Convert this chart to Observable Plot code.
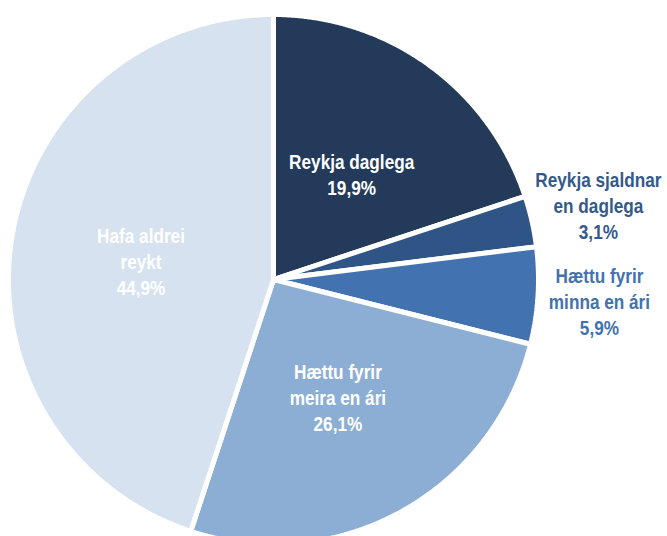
<!DOCTYPE html>
<html>
<head>
<meta charset="utf-8">
<script src="https://cdn.jsdelivr.net/npm/d3@7"></script>
<script src="https://cdn.jsdelivr.net/npm/@observablehq/plot@0.6"></script>
<style>
  html, body { margin: 0; padding: 0; background: #ffffff; }
  #chart svg { display: block; overflow: visible; }
</style>
</head>
<body>
<div id="chart"></div>
<script>
// ---- data ----
const categories = [
  "Reykja daglega",
  "Reykja sjaldnar en daglega",
  "Hættu fyrir minna en ári",
  "Hættu fyrir meira en ári",
  "Hafa aldrei reykt"
];
const labelLines = [
  "Reykja daglega",
  "Reykja sjaldnar\nen daglega",
  "Hættu fyrir\nminna en ári",
  "Hættu fyrir\nmeira en ári",
  "Hafa aldrei\nreykt"
];
const values = [19.9, 3.1, 5.9, 26.1, 44.9];

// ---- styles / layout ----
const colors = ["#233a5a", "#2f5587", "#4272b0", "#8caed4", "#d6e2ef"];
const labelColors = ["#ffffff", "#34598c", "#4272b0", "#ffffff", "#ffffff"];
// label anchor in pie-radius units (x right, y up)
const labelAnchor = [[0.295, 0.400], [1.226, 0.283], [1.230, -0.080], [0.243, -0.443], [-0.500, 0.072]];
const condense = 0.86;

const fmt = v => v.toFixed(1).replace(".", ",") + "%";

const arcs = d3.pie().sort(null).value(d => d)(values);
const slicePts = [];
arcs.forEach((a, i) => {
  slicePts.push({cat: categories[i], x: 0, y: 0});
  const n = Math.max(2, Math.ceil((a.endAngle - a.startAngle) / 0.005));
  for (let k = 0; k <= n; k++) {
    const t = a.startAngle + (a.endAngle - a.startAngle) * k / n;
    slicePts.push({cat: categories[i], x: Math.sin(t), y: Math.cos(t)});
  }
});

const labels = categories.map((c, i) => ({
  cat: c,
  text: labelLines[i] + "\n" + fmt(values[i]),
  x: labelAnchor[i][0],
  y: labelAnchor[i][1],
  color: labelColors[i]
}));

const R = 265, cx = 273, cy = 279, W = 667, H = 536;

const chart = Plot.plot({
  width: W,
  height: H,
  marginLeft: cx - R,
  marginRight: W - (cx + R),
  marginTop: cy - R,
  marginBottom: 0,
  x: {domain: [-1, 1], axis: null},
  y: {domain: [-(H - cy) / R, 1], axis: null},
  color: {domain: categories, range: colors},
  style: {background: "#ffffff"},
  marks: [
    Plot.line(slicePts, {
      x: "x", y: "y", z: "cat", fill: "cat",
      stroke: "#ffffff", strokeWidth: 5, strokeLinejoin: "miter",
      curve: "linear-closed"
    }),
    Plot.text(labels, {
      x: "x", y: "y", text: "text", fill: "color",
      fontFamily: "'Liberation Sans', Arial, sans-serif",
      fontWeight: "bold", fontSize: 20, lineHeight: 1.3,
      textAnchor: "middle"
    })
  ]
});

// condense the label type horizontally (the reference uses a narrow face)
chart.querySelectorAll('g[aria-label="text"] text').forEach(t => {
  const tr = t.getAttribute("transform") || "";
  t.setAttribute("transform", tr + ` scale(${condense},1)`);
});

document.getElementById("chart").appendChild(chart);
</script>
</body>
</html>
